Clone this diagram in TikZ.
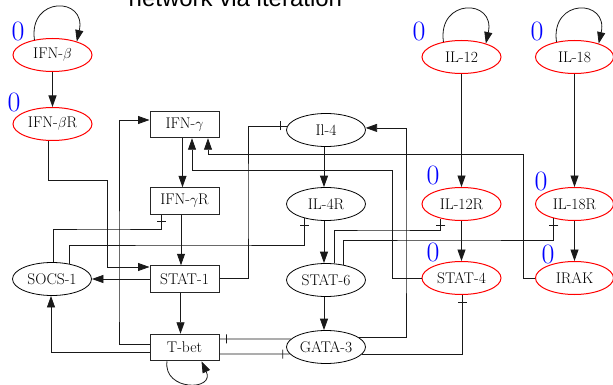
\documentclass[tikz,border=0pt]{standalone}
\usepackage{fontspec}
\newfontfamily\titlefont{Liberation Sans}
\usetikzlibrary{shapes.geometric,arrows.meta,decorations.markings}
\begin{document}
\begin{tikzpicture}[x=1pt,y=-1pt,
  every node/.style={inner sep=0pt, font=\fontsize{15.5}{18}\selectfont},
  ell/.style={ellipse, draw=black, line width=0.8pt, minimum width=79pt, minimum height=33pt},
  redell/.style={ell, draw=red, line width=1pt},
  box/.style={rectangle, draw=black!85, line width=1pt, minimum width=69pt, minimum height=26.5pt},
  zero/.style={text=blue, font=\fontsize{28}{30}\selectfont},
  conn/.style={line width=0.8pt, draw=black!90},
  arr/.style={conn, -{Triangle[length=11.5pt,width=8pt]}},
  tee/.style={conn, postaction={decorate},
    decoration={markings, mark=at position -7pt with {\draw[conn] (0pt,-4.5pt) -- (0pt,4.5pt);}}}
]
\fill[white] (0,0) rectangle (613,385);
\useasboundingbox (0,0) rectangle (613,385);

\node[anchor=base west, font=\titlefont\fontsize{24}{28}\selectfont] (title) at (128.5,7) {network via iteration};

% nodes
\node[redell] (ifnb)  at (52.5,55)  {IFN-$\beta$};
\node[redell] (ifnbr) at (52.5,124) {IFN-$\beta$R};
\node[box]    (ifng)  at (184.5,124.5) {IFN-$\gamma$};
\node[ell]    (il4)   at (326,130)  {Il-4};
\node[redell] (il12)  at (461.5,57) {IL-12};
\node[redell, minimum width=78pt] (il18)  at (574.5,57) {IL-18};
\node[box]    (ifngr) at (184.5,201) {IFN-$\gamma$R};
\node[ell]    (il4r)  at (326,204)  {IL-4R};
\node[redell] (il12r) at (461.5,204) {IL-12R};
\node[redell, minimum width=78pt] (il18r) at (574.5,204) {IL-18R};
\node[ell]    (socs)  at (52,279)   {SOCS-1};
\node[box]    (stat1) at (184.5,279) {STAT-1};
\node[ell]    (stat6) at (326,280)  {STAT-6};
\node[redell] (stat4) at (461.5,278) {STAT-4};
\node[redell, minimum width=78pt] (irak)  at (574.5,278) {IRAK};
\node[box]    (tbet)  at (184.5,347.5) {T-bet};
\node[ell]    (gata)  at (326,347)  {GATA-3};

% zero labels
\node[zero] (z1) at (18,31)   {0};
\node[zero] (z2) at (14,102)  {0};
\node[zero] (z3) at (419,31)  {0};
\node[zero] (z4) at (537,31)  {0};
\node[zero] (z5) at (433,175) {0};
\node[zero] (z6) at (541,181) {0};
\node[zero] (z7) at (433,252) {0};
\node[zero] (z8) at (548,254) {0};

% waypoints
\coordinate (w1) at (107,180);
\coordinate (w2) at (119,300);
\coordinate (w3) at (100,229);
\coordinate (w4) at (200,245);
\coordinate (w5) at (248,200);
\coordinate (w6) at (523,154);
\coordinate (w7) at (392,170);
\coordinate (w8) at (406,250);
\coordinate (w9) at (380,230);
\coordinate (w10) at (450,240);

% self loops
\draw[arr] (ifnb.140) .. controls +(-6,-44) and +(10,-45) .. (ifnb.29);
\draw[arr] (il12.140) .. controls +(-6,-44) and +(10,-45) .. (il12.29);
\draw[arr] (il18.140) .. controls +(-6,-44) and +(10,-45) .. (il18.29);
\draw[arr] ([xshift=-17.5pt]tbet.south) .. controls +(-4,30) and +(14,30) .. ([xshift=17pt]tbet.south);

% straight edges
\draw[arr] (ifnb) -- (ifnbr);
\draw[arr] (il12) -- (il12r);
\draw[arr] (il18) -- (il18r);
\draw[arr] (il12r) -- (stat4);
\draw[arr] (il18r) -- (irak);
\draw[arr] ([xshift=-2pt]il4.south) -- ([xshift=-2pt]il4r.north);
\draw[arr] ([xshift=-2pt]il4r.south) -- ([xshift=-2pt]stat6.north);
\draw[arr] ([xshift=-2pt]stat6.south) -- ([xshift=-2pt]gata.north);
\draw[arr] ([xshift=-2pt]ifng.south) -- ([xshift=-2pt]ifngr.north);
\draw[arr] ([xshift=-3.5pt]ifngr.south) -- ([xshift=-3.5pt]stat1.north);
\draw[arr] ([xshift=-4pt]stat1.south) -- ([xshift=-4pt]tbet.north);
\draw[arr] (stat1.west) -- (socs.east);

% routed edges
\draw[arr] ([xshift=-4pt]ifnbr.south) |- (w1) |- ([yshift=12pt]stat1.west);
\draw[arr] ([yshift=3.5pt]tbet.west) -| (w2) |- ([yshift=4.5pt]ifng.west);
\draw[arr] ([yshift=-5pt]tbet.west) -| ([xshift=-1pt]socs.south);
\draw[tee] ([xshift=1pt]socs.north) |- (w3) -| ([xshift=-23.5pt]ifngr.south);
\draw[tee] (socs.42) |- (w4) -| (il4r.213);
\draw[tee] ([yshift=1pt]stat1.east) -| (w5) |- (il4.174);
\draw[arr] (irak.west) -| (w6) -| ([xshift=23.5pt]ifng.south);
\draw[arr] (stat4.west) -| (w7) -| ([xshift=7.5pt]ifng.south);
\draw[arr] (gata.17) -| (w8) |- (il4.3);
\draw[tee] (gata.349) -| ([xshift=0.5pt]stat4.south);
\draw[tee] (stat6.64) |- (w9) -| (il12r.215);
\draw[tee] (stat6.42) |- (w10) -| (il18r.215);
\draw[tee] (gata.167) -- ([yshift=8.5pt]tbet.east);
\draw[tee] ([yshift=-6.5pt]tbet.east) -- (gata.191);
\end{tikzpicture}
\end{document}
